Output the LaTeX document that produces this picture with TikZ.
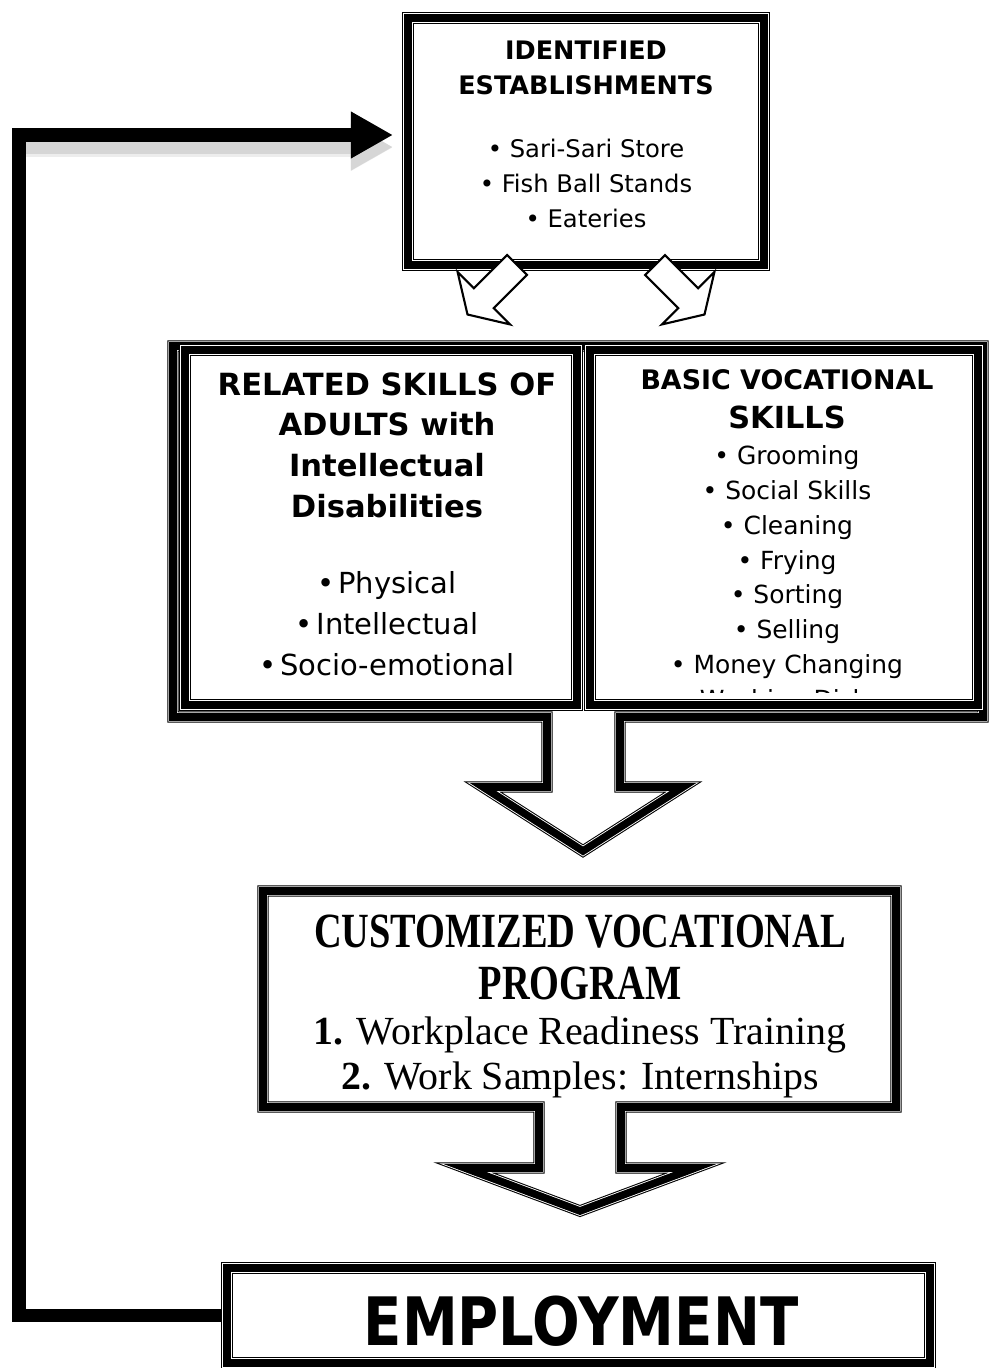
\documentclass[tikz,border=0pt]{standalone}
\usepackage{fontspec}
\setmainfont{DejaVu Sans}
\newfontfamily\progfont{Liberation Serif}
\newfontfamily\proghead[FakeStretch=0.78]{Liberation Serif}
\newfontfamily\empfont[FakeStretch=0.84]{DejaVu Sans}
\usetikzlibrary{arrows.meta}

\begin{document}
\begin{tikzpicture}[x=0.02cm, y=-0.02cm,
  triframe/.style={draw, line width=6.5pt, fill=white, line join=miter, inner sep=0pt,
    postaction={draw=white, line width=5.3pt},
    postaction={draw=black, line width=4.3pt}},
  txt/.style={anchor=north, align=center, inner sep=0pt},
  hollow/.style={draw, line width=1.2pt, fill=white, line join=miter},
  loopline/.style={line width=7.9pt, -{Triangle[length=24pt,width=25pt]}},
]
\useasboundingbox (0,0) rectangle (989,1368);

% big callout behind the two skill boxes
\draw[triframe] (173,346) -- (983,346) -- (983,717) -- (620,717) -- (620,787) -- (683,787)
  -- (583,851) -- (483,787) -- (547,787) -- (547,717) -- (173,717) -- cycle;

\node[triframe, minimum width=7.84cm, minimum height=7.1cm] (related) at (381,527.5) {};
\node[triframe, minimum width=7.76cm, minimum height=7.1cm] (basic) at (784,527.5) {};

\node[txt, font=\fontsize{16.5pt}{23.2pt}\selectfont] (relatedtxt) at (387,372)
  {{\fontsize{17.4pt}{23.2pt}\selectfont\bfseries RELATED SKILLS OF}\\
   {\fontsize{17.4pt}{23.2pt}\selectfont\bfseries ADULTS with}\\
   {\fontsize{17.4pt}{23.2pt}\selectfont\bfseries Intellectual}\\
   {\fontsize{17.4pt}{23.2pt}\selectfont\bfseries Disabilities}\\[20.4pt]
   \textbullet\hspace{2pt}Physical\\
   \textbullet\hspace{2pt}Intellectual\\
   \textbullet\hspace{2pt}Socio-emotional};

\begin{scope}
  \clip (596,356) rectangle (972,692);
  \node[txt, font=\fontsize{14.2pt}{19.8pt}\selectfont] (basictxt) at (787,369)
    {{\fontsize{15.3pt}{19.8pt}\selectfont\bfseries BASIC VOCATIONAL}\\[2.3pt]
     {\fontsize{17.3pt}{19.8pt}\selectfont\bfseries SKILLS}\\[1pt]
     \textbullet\ Grooming\\
     \textbullet\ Social Skills\\
     \textbullet\ Cleaning\\
     \textbullet\ Frying\\
     \textbullet\ Sorting\\
     \textbullet\ Selling\\
     \textbullet\ Money Changing\\
     \textbullet\ Washing Dishes};
\end{scope}

% establishments on top
\node[triframe, minimum width=7.12cm, minimum height=4.94cm] (ident) at (586,141.5) {};
\node[txt, font=\fontsize{13.8pt}{19.8pt}\selectfont] (identtxt) at (586,41)
  {{\fontsize{14.5pt}{19.8pt}\selectfont\bfseries IDENTIFIED}\\
   {\fontsize{14.5pt}{19.8pt}\selectfont\bfseries ESTABLISHMENTS}\\[15.9pt]
   \textbullet\ Sari-Sari Store\\
   \textbullet\ Fish Ball Stands\\
   \textbullet\ Eateries};

\foreach \sx/\ang in {517/-135, 655/-45}
  \draw[hollow, shift={(\sx,265)}, rotate=\ang]
    (0,-14) -- (47,-14) -- (47,-37) -- (70,0) -- (47,37) -- (47,14) -- (0,14) -- cycle;

% program callout
\draw[triframe] (263,891) -- (896,891) -- (896,1107) -- (621,1107) -- (621,1168) -- (695,1168)
  -- (580,1211) -- (465,1168) -- (539,1168) -- (539,1107) -- (263,1107) -- cycle;
\node[txt, font=\fontsize{22.7pt}{25.5pt}\selectfont\progfont] (cvptxt) at (580,915)
  {{\fontsize{28pt}{25.5pt}\selectfont\proghead\bfseries CUSTOMIZED VOCATIONAL}\\[4pt]
   {\fontsize{28pt}{25.5pt}\selectfont\proghead\bfseries PROGRAM}\\
   \textbf{1.} Workplace Readiness Training\\
   \textbf{2.} Work Samples: Internships};

\node[triframe, minimum width=14.06cm, minimum height=1.9cm] (emp) at (578.5,1315.5) {};
\node[txt, font=\fontsize{38pt}{40pt}\selectfont\empfont\bfseries] (emptxt) at (581,1296) {EMPLOYMENT};

% feedback line back to the top, soft shadow under the upper run
\coordinate (back) at (393,135);
\coordinate (bend) at (19,135);
\draw[loopline, line width=11pt, draw=black!7, transform canvas={yshift=-0.25cm}] ([xshift=-4pt]bend) -- (back);
\draw[loopline, draw=black!16, transform canvas={yshift=-0.24cm}] (bend) -- (back);
\draw[loopline] (emp.west) -| (bend) -- (back);
\end{tikzpicture}
\end{document}
